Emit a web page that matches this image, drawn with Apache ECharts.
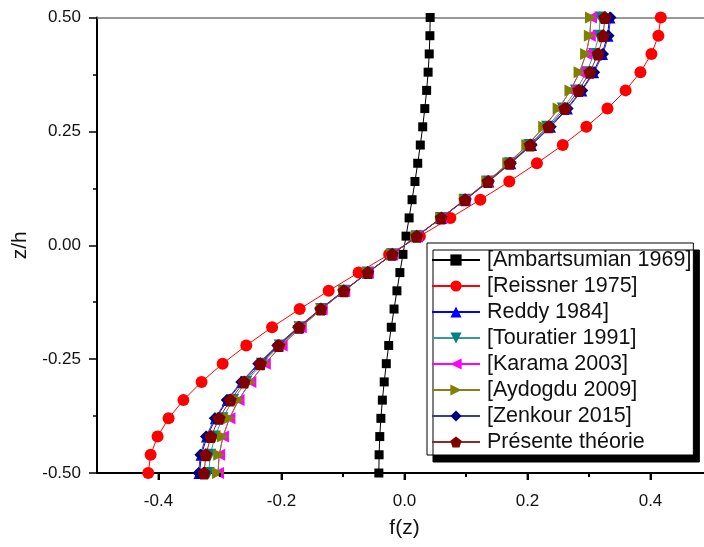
<!DOCTYPE html>
<html>
<head>
<meta charset="utf-8">
<script src="https://cdn.jsdelivr.net/npm/echarts@6/dist/echarts.min.js"></script>
<style>html,body{margin:0;padding:0;background:#fff;}#c{width:704px;height:547px;}</style>
</head>
<body>
<div id="c"></div>
<script>
// z/h values (vertical axis)
const zValues = [-0.50,-0.46,-0.42,-0.38,-0.34,-0.30,-0.26,-0.22,-0.18,-0.14,-0.10,-0.06,-0.02,
                 0.02,0.06,0.10,0.14,0.18,0.22,0.26,0.30,0.34,0.38,0.42,0.46,0.50];
// f(z) values
const ambartsumian = [-0.0417,-0.0413,-0.0402,-0.0384,-0.0360,-0.0330,-0.0296,-0.0257,-0.0215,-0.0170,-0.0123,-0.0075,-0.0025,
                      0.0025,0.0075,0.0123,0.0170,0.0215,0.0257,0.0296,0.0330,0.0360,0.0384,0.0402,0.0413,0.0417];
const reissner = [-0.4167,-0.4128,-0.4015,-0.3836,-0.3595,-0.3300,-0.2957,-0.2573,-0.2153,-0.1704,-0.1233,-0.0746,-0.0250,
                  0.0250,0.0746,0.1233,0.1704,0.2153,0.2573,0.2957,0.3300,0.3595,0.3836,0.4015,0.4128,0.4167];
const reddy = [-0.3333,-0.3302,-0.3212,-0.3068,-0.2876,-0.2640,-0.2366,-0.2058,-0.1722,-0.1363,-0.0987,-0.0597,-0.0200,
               0.0200,0.0597,0.0987,0.1363,0.1722,0.2058,0.2366,0.2640,0.2876,0.3068,0.3212,0.3302,0.3333];
const touratier = [-0.3183,-0.3158,-0.3083,-0.2960,-0.2789,-0.2575,-0.2320,-0.2029,-0.1706,-0.1355,-0.0984,-0.0596,-0.0200,
                   0.0200,0.0596,0.0984,0.1355,0.1706,0.2029,0.2320,0.2575,0.2789,0.2960,0.3083,0.3158,0.3183];
const karama = [-0.3033,-0.3013,-0.2952,-0.2847,-0.2698,-0.2506,-0.2271,-0.1997,-0.1687,-0.1346,-0.0980,-0.0596,-0.0200,
                0.0200,0.0596,0.0980,0.1346,0.1687,0.1997,0.2271,0.2506,0.2698,0.2847,0.2952,0.3013,0.3033];
const aydogdu = [-0.3033,-0.3013,-0.2952,-0.2847,-0.2698,-0.2506,-0.2271,-0.1997,-0.1687,-0.1346,-0.0980,-0.0596,-0.0200,
                 0.0200,0.0596,0.0980,0.1346,0.1687,0.1997,0.2271,0.2506,0.2698,0.2847,0.2952,0.3013,0.3033];
const zenkour = [-0.3350,-0.3319,-0.3228,-0.3084,-0.2890,-0.2653,-0.2378,-0.2068,-0.1731,-0.1370,-0.0992,-0.0600,-0.0201,
                 0.0201,0.0600,0.0992,0.1370,0.1731,0.2068,0.2378,0.2653,0.2890,0.3084,0.3228,0.3319,0.3350];
const presente = [-0.3258,-0.3230,-0.3148,-0.3014,-0.2833,-0.2608,-0.2343,-0.2044,-0.1714,-0.1359,-0.0985,-0.0597,-0.0200,
                  0.0200,0.0597,0.0985,0.1359,0.1714,0.2044,0.2343,0.2608,0.2833,0.3014,0.3148,0.3230,0.3258];

const seriesNames = ['[Ambartsumian 1969]','[Reissner 1975]','Reddy 1984]','[Touratier 1991]',
                     '[Karama 2003]','[Aydogdu 2009]','[Zenkour 2015]','Présente théorie'];
// x-axis tick values
const xMajorTicks = [-0.4,-0.2,0,0.2,0.4];
const xMinorTicks = [-0.3,-0.1,0.1,0.3];

const pentagon = 'path://M50,0 L100,38 L81,100 L19,100 L0,38 Z';
const styles = [
  {data: ambartsumian, symbol:'rect', size:9, color:'#000000', line:'#000000', rot:0},
  {data: reissner, symbol:'circle', size:12, color:'#ff0000', line:'#ff0000', rot:0},
  {data: reddy, symbol:'triangle', size:12, color:'#0000ff', line:'#0000ff', rot:0},
  {data: touratier, symbol:'triangle', size:12, color:'#008080', line:'#3a9a9a', rot:180},
  {data: karama, symbol:'triangle', size:12, color:'#ff00ff', line:'#ff00ff', rot:90},
  {data: aydogdu, symbol:'triangle', size:12, color:'#808000', line:'#8a7a20', rot:-90},
  {data: zenkour, symbol:'diamond', size:12, color:'#000080', line:'#3b3b99', rot:0},
  {data: presente, symbol:pentagon, size:13, color:'#800000', line:'#8b2a2a', rot:0}
];

const series = styles.map((s, i) => ({
  name: seriesNames[i],
  type: 'line',
  xAxisIndex: 0, yAxisIndex: 0,
  data: s.data.map((v, k) => [v, zValues[k]]),
  symbol: s.symbol,
  symbolSize: s.size,
  symbolRotate: s.rot,
  showSymbol: true,
  itemStyle: {color: s.color},
  lineStyle: {color: s.line, width: 1},
  z: 2 + i
}));

// tick marks below the x axis, placed through the strip grids' own scales
series.push({
  name: 'majorTicks', type: 'scatter', xAxisIndex: 2, yAxisIndex: 2,
  data: xMajorTicks.map(v => [v, 0.5]), symbol: 'rect', symbolSize: [2, 7],
  itemStyle: {color: '#000'}, silent: true, clip: false, zlevel: 1, z: 50
});
series.push({
  name: 'minorTicks', type: 'scatter', xAxisIndex: 3, yAxisIndex: 3,
  data: xMinorTicks.map(v => [v, 0.5]), symbol: 'rect', symbolSize: [2, 4],
  itemStyle: {color: '#000'}, silent: true, clip: false, zlevel: 1, z: 50
});

// x from -0.5 to 0.5 spans 615 px starting at 97; the window cuts it at 704
const G_LEFT = 97, G_W = 615, G_TOP = 17.5, G_BOTTOM = 74;
const X_MAX_VISIBLE = -0.5 + (704 - G_LEFT) / G_W;
const T_LEFT = G_LEFT + G_W * 0.1, T_RIGHT = 704 - (G_LEFT + G_W * 0.9);
const BASE = 547 - G_BOTTOM;

const chart = echarts.init(document.getElementById('c'), null, {renderer: 'canvas'});
chart.setOption({
  animation: false,
  textStyle: {fontFamily: 'Liberation Sans, Arial, sans-serif'},
  grid: [
    {left: G_LEFT, top: G_TOP, bottom: G_BOTTOM, right: 0, show: false},
    {left: T_LEFT, top: G_TOP, bottom: G_BOTTOM, right: T_RIGHT, show: false},
    {left: T_LEFT, top: BASE, height: 7, right: T_RIGHT, show: false},
    {left: T_LEFT, top: BASE, height: 4, right: T_RIGHT, show: false}
  ],
  legend: {
    orient: 'vertical', left: 427, top: 243,
    padding: [6, 2, 2, 4],
    itemWidth: 48, itemHeight: 14, itemGap: 4,
    backgroundColor: '#fff', borderColor: '#000', borderWidth: 1,
    shadowColor: '#000', shadowBlur: 0, shadowOffsetX: 6, shadowOffsetY: 7,
    textStyle: {fontSize: 21.5, color: '#111', fontFamily: 'Liberation Sans, Arial, sans-serif', padding: [0,0,0,2]},
    data: seriesNames
  },
  xAxis: [{
    gridIndex: 0, type: 'value', min: -0.5, max: X_MAX_VISIBLE, position: 'bottom',
    axisLine: {show: true, onZero: false, lineStyle: {color: '#000', width: 2}},
    axisTick: {show: false},
    axisLabel: {show: false},
    splitLine: {show: false}
  }, {
    gridIndex: 1, type: 'value', min: -0.4, max: 0.4, interval: 0.2, position: 'bottom',
    name: 'f(z)', nameLocation: 'middle', nameGap: 45,
    nameTextStyle: {fontSize: 21, color: '#111'},
    axisLine: {show: true, onZero: false, lineStyle: {color: '#000', width: 2}},
    axisTick: {show: true, length: 7, lineStyle: {color: '#000', width: 2}},
    minorTick: {show: true, splitNumber: 2, length: 4, lineStyle: {color: '#000', width: 2}},
    axisLabel: {show: true, fontSize: 17, color: '#111', margin: 20, formatter: v => v.toFixed(1)},
    splitLine: {show: false}
  }, {
    gridIndex: 2, type: 'value', min: -0.4, max: 0.4, interval: 0.2, show: false
  }, {
    gridIndex: 3, type: 'value', min: -0.4, max: 0.4, interval: 0.2, show: false
  }, {
    gridIndex: 0, type: 'value', min: -0.5, max: X_MAX_VISIBLE, position: 'top',
    axisLine: {show: true, onZero: false, lineStyle: {color: '#777', width: 1.5}},
    axisTick: {show: false}, axisLabel: {show: false}, splitLine: {show: false}
  }],
  yAxis: [{
    gridIndex: 0, type: 'value', min: -0.5, max: 0.5, interval: 0.25,
    name: 'z/h', nameLocation: 'middle', nameGap: 66, nameRotate: 90,
    nameTextStyle: {fontSize: 21, color: '#111'},
    axisLine: {show: true, onZero: false, lineStyle: {color: '#000', width: 2}},
    axisTick: {show: true, length: 8, lineStyle: {color: '#000', width: 1.5}},
    minorTick: {show: true, splitNumber: 2, length: 4, lineStyle: {color: '#000', width: 1.5}},
    axisLabel: {fontSize: 17, color: '#111', margin: 16, formatter: v => v.toFixed(2)},
    splitLine: {show: false}
  },
  {gridIndex: 1, type: 'value', min: -0.5, max: 0.5, show: false},
  {gridIndex: 2, type: 'value', min: 0, max: 1, show: false},
  {gridIndex: 3, type: 'value', min: 0, max: 1, show: false}],
  series: series
});
</script>
</body>
</html>
